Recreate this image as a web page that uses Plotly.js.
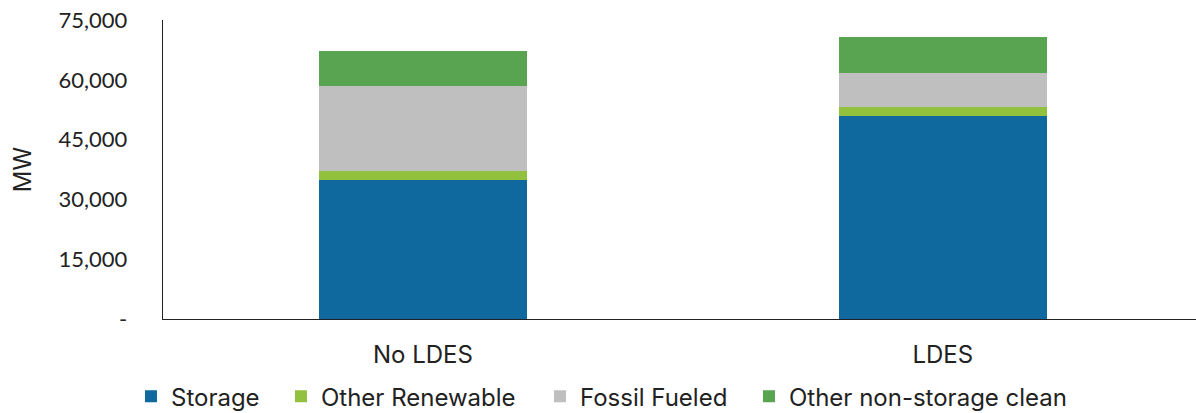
<!DOCTYPE html>
<html>
<head>
<meta charset="utf-8">
<script src="https://cdn.plot.ly/plotly-3.0.1.min.js"></script>
<style>
  html, body { margin: 0; padding: 0; background: #fff; }
  #chart { width: 1196px; height: 413px; }
</style>
</head>
<body>
<div id="chart"></div>
<script>
// Scenarios on the x axis
const scenarios = ['No LDES', 'LDES'];

// Installed capacity by resource type (MW)
const storage         = [34900, 50800];
const otherRenewable  = [2300, 2400];
const fossilFueled    = [21200, 8600];
const otherClean      = [8750, 8900];

// Y axis ticks
const yTickVals = [0, 15000, 30000, 45000, 60000, 75000];
const yTickText = ['-', '15,000', '30,000', '45,000', '60,000', '75,000'];

const NUM_FONT = 'Lato, "Open Sans", sans-serif';
const FONT = 'Inter, Lato, sans-serif';
const TEXT = '#222222';

function bar(name, values, color, entryWidth) {
  return {
    type: 'bar',
    name: name,
    x: scenarios,
    y: values,
    width: 0.4,
    legendwidth: entryWidth,
    marker: { color: color, line: { width: 0 } },
    hoverinfo: 'x+y+name'
  };
}

const data = [
  bar('Storage', storage, '#0f699e', 105),
  bar('Other Renewable', otherRenewable, '#92c13f', 214),
  bar('Fossil Fueled', fossilFueled, '#bfbfbf', 164),
  bar('Other non-storage clean', otherClean, '#58a450', 300)
];

const layout = {
  width: 1196,
  height: 413,
  barmode: 'stack',
  paper_bgcolor: '#ffffff',
  plot_bgcolor: '#ffffff',
  font: { family: FONT, size: 24, color: TEXT },
  margin: { l: 163, r: 0, t: 19.5, b: 93.5, autoexpand: false },
  showlegend: true,
  legend: {
    orientation: 'h',
    x: -0.031,
    xanchor: 'left',
    y: -0.26,
    yanchor: 'middle',
    traceorder: 'normal',
    font: { family: FONT, size: 24, color: TEXT },
    itemwidth: 30
  },
  xaxis: {
    type: 'category',
    range: [-0.5, 1.487],
    showline: true,
    linecolor: '#222222',
    linewidth: 1.3,
    showgrid: false,
    zeroline: false,
    ticks: '',
    ticklabelstandoff: 14,
    tickfont: { family: FONT, size: 24, color: TEXT }
  },
  yaxis: {
    range: [0, 75000],
    tickvals: yTickVals,
    ticktext: yTickText,
    showline: true,
    linecolor: '#222222',
    linewidth: 1.3,
    showgrid: false,
    zeroline: false,
    ticks: '',
    ticklabelstandoff: 30,
    tickfont: { family: NUM_FONT, size: 22, color: TEXT },
    title: { text: 'MW', standoff: 20, font: { family: FONT, size: 24, color: TEXT } }
  }
};

Plotly.newPlot('chart', data, layout, { displayModeBar: false, staticPlot: true });
</script>
</body>
</html>
